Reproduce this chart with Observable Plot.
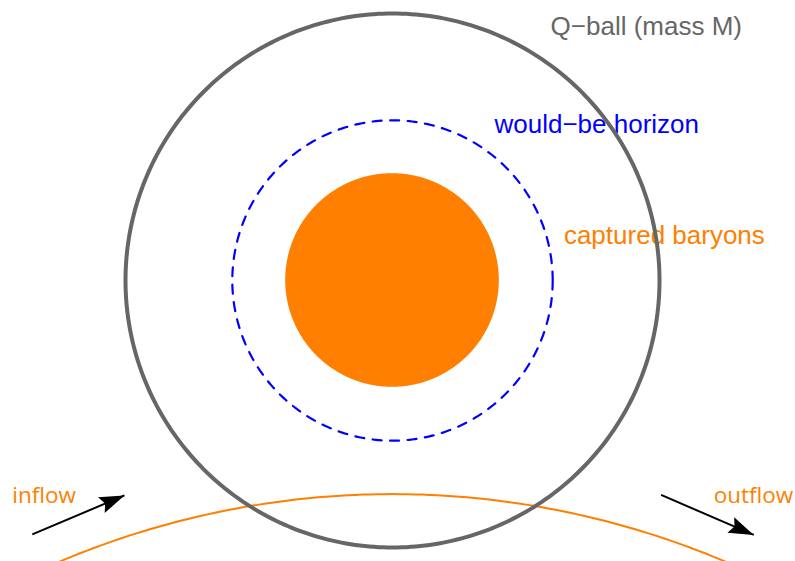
<!DOCTYPE html>
<html><head><meta charset="utf-8">
<script src="https://cdn.jsdelivr.net/npm/d3@7"></script>
<script src="https://cdn.jsdelivr.net/npm/@observablehq/plot@0.6"></script>
<style>body{margin:0;background:#fff}</style>
</head><body><div id="chart"></div>
<script>
// Geometry in units of the Q-ball radius (centre at 0,0)
const shellNames = ["Q-ball", "would-be horizon", "captured baryons"];
const shellRadii = [1.0, 0.6, 0.4];
const flowArcCenterX = 0;
const flowArcCenterY = -4.0;
const flowArcRadius = 3.2;

const arrowNames = ["inflow", "outflow"];
const arrowX1 = [-1.349, 1.006];
const arrowY1 = [-0.951, -0.803];
const arrowX2 = [-1.004, 1.353];
const arrowY2 = [-0.805, -0.953];

const labelTexts = ["Q\u2212ball (mass M)", "would\u2212be horizon", "captured baryons"];
const labelX = [0.592, 0.382, 0.642];
const labelY = [0.918, 0.552, 0.1375];
const labelColors = ["#666666", "#0000ff", "#ff8000"];

const flowLabelTexts = ["inflow", "outflow"];
const flowLabelX = [-1.424, 1.203];
const flowLabelY = [-0.8326, -0.8326];

// derived tables
const angles = d3.range(0, 361, 1).map(d => d * Math.PI / 180);
const circle = r => angles.map(t => ({x: r * Math.cos(t), y: r * Math.sin(t)}));
const halfAngles = d3.range(180, -0.5, -0.5).map(d => d * Math.PI / 180);
const disk = halfAngles.map(t => ({x: shellRadii[2] * Math.cos(t), y1: -shellRadii[2] * Math.sin(t), y2: shellRadii[2] * Math.sin(t)}));
const arcPts = d3.range(40, 140.1, 0.5).map(d => {
  const t = d * Math.PI / 180;
  return {x: flowArcCenterX + flowArcRadius * Math.cos(t), y: flowArcCenterY + flowArcRadius * Math.sin(t)};
});
const arrows = arrowNames.map((n, i) => ({
  name: n, x1: arrowX1[i], y1: arrowY1[i], x2: arrowX2[i], y2: arrowY2[i],
  rot: Math.atan2(-(arrowY2[i] - arrowY1[i]), arrowX2[i] - arrowX1[i]) * 180 / Math.PI + 90
}));
const labels = labelTexts.map((t, i) => ({text: t, x: labelX[i], y: labelY[i], color: labelColors[i]}));
const flowLabels = flowLabelTexts.map((t, i) => ({text: t, x: flowLabelX[i], y: flowLabelY[i]}));

const arrowHead = {
  draw(ctx) {
    const L = 25, W = 8.5, N = 4;
    ctx.moveTo(0, 0);
    ctx.lineTo(-W, L);
    ctx.lineTo(0, L - N);
    ctx.lineTo(W, L);
    ctx.closePath();
  }
};

const W = 795, H = 561, unit = 267, cx = 392, cy = 280;
const chart = Plot.plot({
  width: W, height: H,
  margin: 0,
  x: {domain: [-cx / unit, (W - cx) / unit], axis: null},
  y: {domain: [-(H - cy) / unit, cy / unit], axis: null},
  marks: [
    Plot.line(arcPts, {x: "x", y: "y", stroke: "#ff8000", strokeWidth: 2, clip: true}),
    Plot.areaY(disk, {x: "x", y1: "y1", y2: "y2", fill: "#ff8000"}),
    Plot.line(circle(shellRadii[1]), {x: "x", y: "y", stroke: "#0000ff", strokeWidth: 2.2, strokeDasharray: "9,8.5"}),
    Plot.text(labels, {x: "x", y: "y", text: "text", fill: "color", textAnchor: "start", lineAnchor: "bottom",
      fontSize: 26, fontFamily: "Liberation Sans, Arial, sans-serif"}),
    Plot.text(flowLabels, {x: "x", y: "y", text: "text", fill: "#ff8000", textAnchor: "start", lineAnchor: "bottom",
      fontSize: 22.5, fontFamily: "Open Sans, sans-serif"}),
    Plot.line(circle(shellRadii[0]), {x: "x", y: "y", stroke: "#666666", strokeWidth: 4}),
    Plot.link(arrows, {x1: "x1", y1: "y1", x2: "x2", y2: "y2", stroke: "black", strokeWidth: 2}),
    Plot.dot(arrows, {x: "x2", y: "y2", symbol: arrowHead, rotate: "rot", fill: "black", stroke: "none"})
  ]
});
document.getElementById("chart").appendChild(chart);
</script>
</body></html>
